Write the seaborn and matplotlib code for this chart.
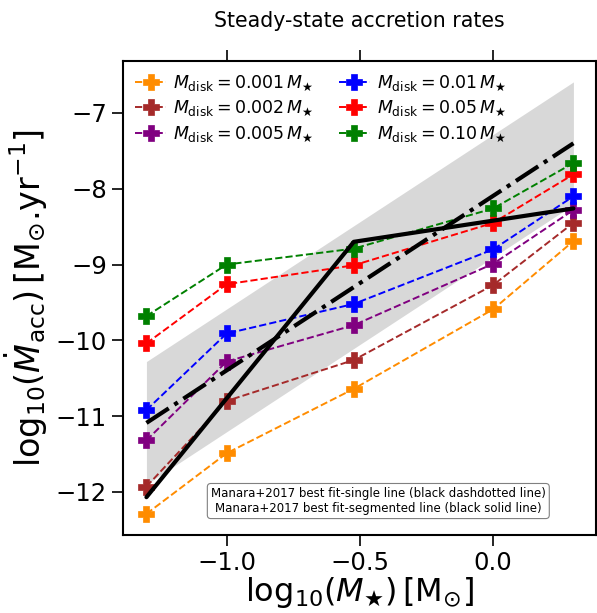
import numpy as np
import pandas as pd
import matplotlib
matplotlib.use('Agg')
import matplotlib.pyplot as plt
import seaborn as sns

# stellar masses (log10 Msun) used in the models
log_mstar = [-1.301, -1.0, -0.523, 0.0, 0.301]

# log10 accretion rate for each disk-mass fraction
acc_0001 = [-12.29, -11.49, -10.64, -9.59, -8.69]
acc_0002 = [-11.93, -10.80, -10.26, -9.27, -8.45]
acc_0005 = [-11.32, -10.28, -9.80, -8.99, -8.28]
acc_001 = [-10.92, -9.91, -9.52, -8.80, -8.10]
acc_005 = [-10.04, -9.26, -9.01, -8.45, -7.81]
acc_010 = [-9.68, -9.00, -8.79, -8.26, -7.66]

labels = [r'$M_{\rm disk} = 0.001\,M_{\bigstar}$', r'$M_{\rm disk} = 0.002\,M_{\bigstar}$',
          r'$M_{\rm disk} = 0.005\,M_{\bigstar}$', r'$M_{\rm disk} = 0.01\,M_{\bigstar}$',
          r'$M_{\rm disk} = 0.05\,M_{\bigstar}$', r'$M_{\rm disk} = 0.10\,M_{\bigstar}$']
colors = ['darkorange', 'brown', 'purple', 'blue', 'red', 'green']

# Manara+2017 fits
manara_x = [-1.301, 0.301]
manara_single = [-11.09, -7.40]
manara_upper = [-10.28, -6.59]
manara_lower = [-11.90, -8.21]
seg_x = [-1.301, -0.523, 0.301]
seg_y = [-12.07, -8.70, -8.26]

sns.set_style('ticks')
plt.rcParams['font.family'] = ['DejaVu Sans']
plt.rcParams['mathtext.fontset'] = 'dejavusans'
plt.rcParams.update({'text.color': 'black', 'axes.labelcolor': 'black',
                     'xtick.color': 'black', 'ytick.color': 'black',
                     'axes.edgecolor': 'black'})

fig, ax = plt.subplots(figsize=(5.97, 6.13), dpi=100)
fig.subplots_adjust(left=0.206, right=0.998, top=0.9, bottom=0.127)

ax.fill_between(manara_x, manara_lower, manara_upper, color='gray', alpha=0.3, lw=0, zorder=1)

series = [acc_0001, acc_0002, acc_0005, acc_001, acc_005, acc_010]
for vals, lab, col in zip(series, labels, colors):
    sns.lineplot(x=log_mstar, y=vals, ax=ax, color=col, linestyle='--', lw=1.4,
                 marker='P', markersize=11, markeredgecolor=col, markeredgewidth=0.5,
                 label=lab, zorder=3)

sns.lineplot(x=manara_x, y=manara_single, ax=ax, color='black', linestyle='-.', lw=3, zorder=4)
sns.lineplot(x=seg_x, y=seg_y, ax=ax, color='black', linestyle='-', lw=3, zorder=4)

ax.set_ylim(-12.571, -6.318)
ax.set_xlim(-1.389, 0.385)
ax.set_yticks([-12, -11, -10, -9, -8, -7])
ax.set_xticks([-1.0, -0.5, 0.0])

ax.tick_params(axis='both', labelsize=17.5, length=8, width=1.2, direction='out')
ax.tick_params(axis='x', top=True, bottom=True)
for sp in ax.spines.values():
    sp.set_linewidth(1.5)

ax.set_xlabel(r'$\mathrm{log}_{10}(M_{\bigstar})\,[\rm M_{\odot}]$', fontsize=23, labelpad=0)
ax.set_ylabel(r'$\mathrm{log}_{10}(\dot{M}_{\rm acc})\,[\mathrm{M}_{\odot}$.yr$^{-1}]$',
              fontsize=24, labelpad=4)
ax.set_title('Steady-state accretion rates', fontsize=14.8, pad=25)

ax.legend(loc='upper left', ncol=2, frameon=False, fontsize=12.5,
          handlelength=1.8, handletextpad=0.4, columnspacing=1.4, labelspacing=0.35,
          borderaxespad=0.3)

ax.text(0.54, 0.072,
        'Manara+2017 best fit-single line (black dashdotted line)\n'
        'Manara+2017 best fit-segmented line (black solid line)',
        transform=ax.transAxes, fontsize=8.5, ha='center', va='center',
        bbox=dict(boxstyle='round,pad=0.3', facecolor='white', edgecolor='gray', lw=0.8),
        zorder=6)

fig.savefig('out.png', dpi=100)
